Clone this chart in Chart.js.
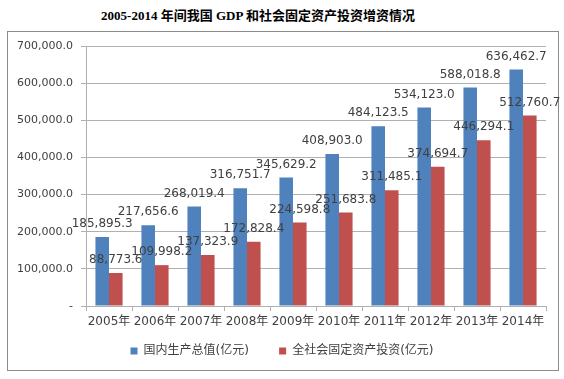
<!DOCTYPE html>
<html>
<head>
<meta charset="utf-8">
<script src="https://cdn.jsdelivr.net/npm/chart.js@4"></script>
<style>
  html, body { margin: 0; padding: 0; background: #fff; }
  #wrap { position: relative; width: 564px; height: 379px; overflow: hidden; }
  #title {
    position: absolute; left: 0; width: 516px; top: 5px;
    text-align: center; font: bold 13px "Liberation Serif", "Noto Sans CJK SC", serif; color: #000;
  }
  #frame {
    position: absolute; left: 7px; top: 31px; width: 550px; height: 338px;
    border: 1px solid #8c8c8c;
  }
  canvas { position: absolute; left: 0; top: 0; }
</style>
</head>
<body>
<div id="wrap">
  <div id="title">2005-2014 年间我国 GDP 和社会固定资产投资增资情况</div>
  <div id="frame"></div>
  <canvas id="chart" width="564" height="379"></canvas>
</div>
<script>
const years = ['2005年', '2006年', '2007年', '2008年', '2009年', '2010年', '2011年', '2012年', '2013年', '2014年']
const gdp = [185895.3, 217656.6, 268019.4, 316751.7, 345629.2, 408903.0, 484123.5, 534123.0, 588018.8, 636462.7]
const investment = [88773.6, 109998.2, 137323.9, 172828.4, 224598.8, 251683.8, 311485.1, 374694.7, 446294.1, 512760.7]
const seriesNames = ['国内生产总值(亿元)', '全社会固定资产投资(亿元)']

const fmt = v => v.toLocaleString('en-US', { minimumFractionDigits: 1, maximumFractionDigits: 1 })

// draw value labels above each bar
const valueLabels = {
  id: 'valueLabels',
  afterDatasetsDraw(chart) {
    const ctx = chart.ctx
    ctx.save()
    ctx.font = '12px "DejaVu Sans", sans-serif'
    ctx.fillStyle = '#404040'
    ctx.textAlign = 'center'
    ctx.textBaseline = 'middle'
    chart.data.datasets.forEach((ds, i) => {
      chart.getDatasetMeta(i).data.forEach((bar, j) => {
        ctx.fillText(fmt(ds.data[j]), bar.x, bar.y - 13)
      })
    })
    ctx.restore()
  }
}

// nudge the legend a little to the right, like the original
const legendShift = {
  id: 'legendShift',
  afterLayout(chart) {
    if (chart.legend) chart.legend.left += 18
  }
}

new Chart(document.getElementById('chart'), {
  type: 'bar',
  data: {
    labels: years,
    datasets: [
      { label: seriesNames[0], data: gdp, backgroundColor: '#4f81bd' },
      { label: seriesNames[1], data: investment, backgroundColor: '#c0504d' }
    ]
  },
  options: {
    responsive: false,
    animation: false,
    layout: { padding: { left: 0, right: 18, top: 46, bottom: 12 } },
    datasets: { bar: { categoryPercentage: 0.59, barPercentage: 1 } },
    scales: {
      x: {
        grid: { drawOnChartArea: false, drawTicks: true, tickLength: 5, color: '#b0b0b0', offset: true },
        border: { color: '#b0b0b0' },
        ticks: { color: '#404040', font: { size: 12, family: '"DejaVu Sans", "Noto Sans CJK SC", sans-serif' }, padding: 4, maxRotation: 0, autoSkip: false },
        afterFit(scale) { scale.height = 24 }
      },
      y: {
        min: 0,
        max: 700000,
        grid: { color: '#b0b0b0', tickLength: 5 },
        border: { color: '#b0b0b0' },
        ticks: {
          stepSize: 100000,
          padding: 8,
          color: '#404040',
          font: { size: 11, family: '"DejaVu Sans", sans-serif' },
          callback: v => v === 0 ? '-' : fmt(v)
        },
        afterFit(scale) { scale.width = 86 }
      }
    },
    plugins: {
      legend: {
        position: 'bottom',
        labels: {
          boxWidth: 7,
          boxHeight: 7,
          padding: 15,
          color: '#404040',
          font: { size: 12, family: '"DejaVu Sans", "Noto Sans CJK SC", sans-serif' },
          // a few trailing spaces widen the gap between the two entries
          generateLabels(chart) {
            const items = Chart.defaults.plugins.legend.labels.generateLabels(chart)
            items[0].text += '    '
            return items
          }
        }
      },
      tooltip: { enabled: false }
    }
  },
  plugins: [valueLabels, legendShift]
})
</script>
</body>
</html>
